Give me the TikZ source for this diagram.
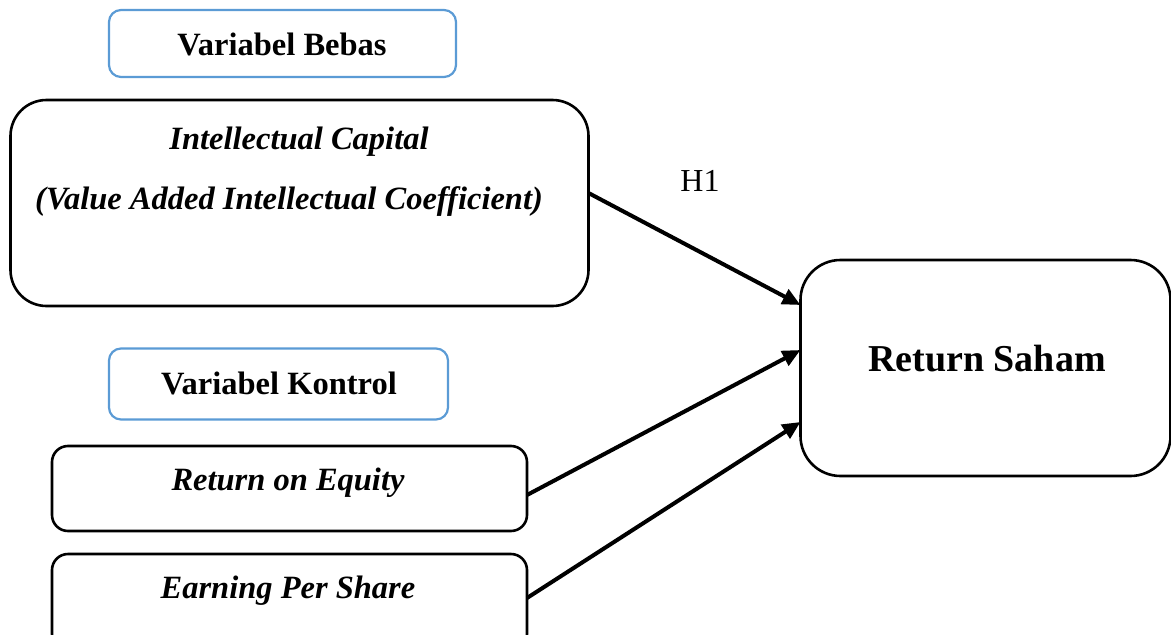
\documentclass[tikz,border=0pt]{standalone}
\usepackage{fontspec}
\setmainfont{Liberation Serif}
\usetikzlibrary{arrows.meta}
\begin{document}
\begin{tikzpicture}[x=1pt,y=-1pt,
  box/.style={draw=black,line width=2.6pt,rectangle,inner sep=0pt,outer sep=0pt},
  bluebox/.style={draw={rgb,255:red,91;green,155;blue,213},line width=2.2pt,rectangle,rounded corners=12pt,inner sep=0pt,outer sep=0pt},
  lbl/.style={font=\fontsize{32.5}{38}\selectfont\bfseries,inner sep=0pt},
  ilbl/.style={font=\fontsize{32.5}{38}\selectfont\bfseries\itshape,inner sep=0pt},
  conn/.style={line width=4pt,-{Triangle[length=18pt,width=16pt]}}
]
\clip (0,0) rectangle (1171,635);
% boxes
\node[bluebox,minimum width=347pt,minimum height=67pt] (vb) at (282.5,43.5) {};
\node[box,rounded corners=36pt,minimum width=578pt,minimum height=206pt] (ic) at (299.5,203) {};
\node[box,rounded corners=40pt,minimum width=370pt,minimum height=216pt] (rs) at (985.5,368) {};
\node[bluebox,minimum width=339pt,minimum height=71pt] (vk) at (278.5,384) {};
\node[box,rounded corners=16pt,minimum width=475pt,minimum height=85pt] (roe) at (289.5,488.5) {};
\node[box,rounded corners=16pt,minimum width=475pt,minimum height=96pt] (eps) at (289.5,602) {};
% texts
\node[lbl] (tvb) at (282,44) {Variabel Bebas};
\node[ilbl] (tic1) at (299,142) {Intellectual Capital};
\node[ilbl] (tic2) at (289,202) {(Value Added Intellectual Coefficient)};
\node[font=\fontsize{32}{38}\selectfont,inner sep=0pt] (h1) at (700,181) {H1};
\node[font=\fontsize{38}{45}\selectfont\bfseries,inner sep=0pt] (trs) at (987,359) {Return Saham};
\node[lbl] (tvk) at (279,383) {Variabel Kontrol};
\node[ilbl] (troe) at (288,483) {Return on Equity};
\node[ilbl] (teps) at (288,591) {Earning Per Share};
% connectors
\draw[conn] ([yshift=10pt]ic.east) -- ([yshift=63pt]rs.west);
\draw[conn] ([yshift=-6.5pt]roe.east) -- ([yshift=18pt]rs.west);
\draw[conn] ([yshift=4pt]eps.east) -- ([yshift=-54pt]rs.west);
\end{tikzpicture}
\end{document}
